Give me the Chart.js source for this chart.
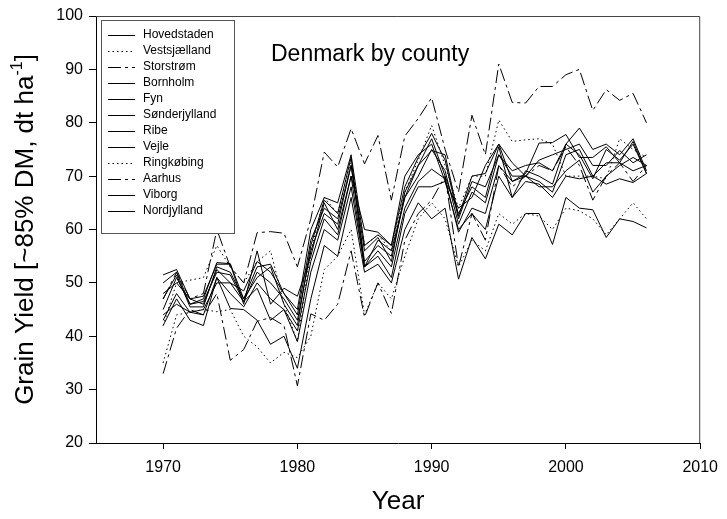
<!DOCTYPE html>
<html lang="da">
<head>
  <meta charset="UTF-8">
  <title>Denmark by county</title>
  <script src="https://cdn.jsdelivr.net/npm/chart.js"></script>
  <style>
    body { margin: 0; background: #fff; }
  </style>
</head>
<body>
  <canvas id="yieldChart" width="727" height="519"></canvas>

  <script>
    // years on the x axis
    const years = [1970, 1971, 1972, 1973, 1974, 1975, 1976, 1977, 1978, 1979,
                   1980, 1981, 1982, 1983, 1984, 1985, 1986, 1987, 1988, 1989,
                   1990, 1991, 1992, 1993, 1994, 1995, 1996, 1997, 1998, 1999,
                   2000, 2001, 2002, 2003, 2004, 2005, 2006];

    const xTicks = [1970, 1980, 1990, 2000, 2010];
    const yTicks = [20, 30, 40, 50, 60, 70, 80, 90, 100];

    // grain yield per county (dt/ha, ~85% DM)
    const hovedstaden = [48, 50, 47, 46, 52.5, 50, 48.5, 54, 52, 48, 44, 58, 64, 62, 72, 56, 58.5, 54, 67, 72,
                         74.8, 74, 62.5, 70, 70.5, 76, 72.5, 70, 73, 74, 75, 76, 72, 72, 74.8, 72.5, 74];
    const vestsjaelland = [42, 50, 50.5, 51, 57, 53, 50, 54, 56, 46, 39, 56, 66, 63, 73, 57, 59, 56, 67, 73,
                           79.5, 72, 64, 70, 70, 80.5, 76.5, 76.8, 77, 76, 70, 70, 70, 69.5, 77, 75, 73.5];
    const storstrom = [47, 52, 47, 48, 60, 53, 50, 59.4, 59.6, 59.3, 53, 62, 74.5, 71.7, 78.9, 72.3, 77.6, 65.5, 77.5, 80.8,
                       84.7, 75, 67, 81.4, 74, 91, 83.8, 83.7, 86.8, 86.8, 89, 90, 82.3, 86.2, 84.2, 85.5, 80];
    const bornholm = [51.5, 52.5, 47, 47.5, 53.5, 53.5, 46, 56, 46, 49, 47.5, 55, 65, 60, 70, 60, 59.5, 57, 70, 74,
                      76, 69, 64, 66, 72, 76, 69, 70.5, 76.2, 76.3, 77.8, 73.5, 73.5, 75.5, 72.5, 76.5, 70.5];
    const fyn = [50, 52, 46, 47, 53.8, 53.6, 47, 53, 53.5, 48, 45, 60, 66, 65, 74, 57, 59, 57, 68, 73.5,
                 78, 73, 62, 69, 68, 74, 71, 72, 72.5, 71, 76, 79, 75, 76, 74, 77, 71];
    const sonderjylland = [45, 51, 46, 46.5, 52, 51.5, 46.5, 52, 50, 47, 43, 56, 63, 61, 72, 54, 57, 55, 66, 70,
                           75, 71, 61, 67, 65, 74, 70, 70, 69, 67, 74, 75, 70, 72.5, 72.5, 71, 72];
    const ribe = [42, 47, 43, 42, 51, 45.2, 45, 43, 38.5, 40, 34, 47, 57, 55, 66, 52, 53.5, 50, 60, 65,
                  62, 64, 50.7, 58.5, 54.5, 61, 59, 63, 63, 57.2, 66, 64, 63.7, 58.5, 62, 61.5, 60.3];
    const vejle = [47, 51.5, 45.5, 45.5, 53, 52, 47, 51, 53, 46, 42, 57, 65.5, 63, 73.5, 53, 58, 56, 66, 72,
                   77, 70, 63, 68, 66, 75.5, 66, 71, 70, 68.5, 76, 74, 69.5, 75, 73, 76, 70.5];
    const ringkobing = [35, 44, 44.5, 45, 44.6, 45, 40, 38, 35, 37, 36, 40, 52.5, 55, 60, 44, 50, 47, 55, 62,
                        65, 62, 53, 58, 56, 63, 61, 63, 62.5, 60, 64, 63.5, 62, 59, 62, 65, 62];
    const aarhus = [33, 41.5, 45, 44, 48, 35.5, 37.5, 42.8, 43.5, 42, 30.7, 44.2, 43, 46, 56, 43.6, 50, 44.3, 58, 63,
                    65.5, 70, 53, 63, 58, 72, 68, 70, 72, 71, 75.5, 72, 65.5, 70, 72.5, 69, 72];
    const viborg = [43, 48, 44.5, 44, 51, 48, 45.5, 50, 47, 45, 41, 54, 62, 59, 70, 53, 56, 53, 64, 69,
                    71.3, 69.5, 59.5, 64, 63, 72, 69, 70, 68, 68, 71, 73, 67, 70, 72, 73.5, 72];
    const nordjylland = [44, 46, 44.5, 45, 50, 50, 46.5, 49, 43, 45, 39, 52, 60, 58, 68, 53, 55, 51, 63, 68,
                         68, 69, 60, 63, 60, 70, 66, 69, 68.5, 66, 70, 69.5, 70, 68.5, 69.5, 68.8, 70.5];

    const counties = ['Hovedstaden', 'Vestsjælland', 'Storstrøm', 'Bornholm', 'Fyn', 'Sønderjylland',
                      'Ribe', 'Vejle', 'Ringkøbing', 'Aarhus', 'Viborg', 'Nordjylland'];
    const series = [hovedstaden, vestsjaelland, storstrom, bornholm, fyn, sonderjylland,
                    ribe, vejle, ringkobing, aarhus, viborg, nordjylland];
    const lineKind = ['solid', 'dot', 'dash', 'solid', 'solid', 'solid',
                      'solid', 'solid', 'dot', 'dash', 'solid', 'solid'];

    const dashFor = { solid: [], dot: [1.5, 3], dash: [13, 4, 3, 4] };
    const FONT = 'Arial, "Liberation Sans", sans-serif';

    const datasets = counties.map((name, i) => ({
      label: name,
      data: years.map((yr, j) => ({ x: yr, y: series[i][j] })),
      borderColor: '#000',
      borderWidth: 1,
      borderDash: dashFor[lineKind[i]],
      pointRadius: 0,
      fill: false,
      tension: 0
    }));

    // frame, legend box, caption and axis titles
    const decorations = {
      id: 'decorations',
      afterDraw(chart) {
        const ctx = chart.ctx;
        const a = chart.chartArea;
        ctx.save();

        // top and right border of the plot box
        ctx.strokeStyle = '#444';
        ctx.lineWidth = 1;
        ctx.setLineDash([]);
        ctx.beginPath();
        ctx.moveTo(a.left, a.top + 0.5);
        ctx.lineTo(a.right - 0.5, a.top + 0.5);
        ctx.lineTo(a.right - 0.5, a.bottom);
        ctx.stroke();

        // legend
        const lx = 101, ly = 20, lw = 133, lh = 213;
        ctx.fillStyle = '#fff';
        ctx.fillRect(lx, ly, lw, lh);
        ctx.strokeStyle = '#555';
        ctx.strokeRect(lx + 0.5, ly + 0.5, lw, lh);
        ctx.font = '12px ' + FONT;
        ctx.textBaseline = 'middle';
        ctx.textAlign = 'left';
        chart.data.datasets.forEach((ds, i) => {
          const y = 35 + i * 16;
          ctx.strokeStyle = '#000';
          ctx.setLineDash(ds.borderDash);
          ctx.beginPath();
          ctx.moveTo(108, y + 0.5);
          ctx.lineTo(135, y + 0.5);
          ctx.stroke();
          ctx.fillStyle = '#000';
          ctx.fillText(ds.label, 143, y);
        });
        ctx.setLineDash([]);

        // caption inside the plot
        ctx.font = '23px ' + FONT;
        ctx.textBaseline = 'alphabetic';
        ctx.fillText('Denmark by county', 271, 61);

        // x axis title
        ctx.font = '26px ' + FONT;
        ctx.textAlign = 'center';
        ctx.fillText('Year', (a.left + a.right) / 2, 509);

        // y axis title with superscript
        const main = 'Grain Yield [~85% DM, dt ha';
        const sup = '-1';
        const tail = ']';
        ctx.font = '26px ' + FONT;
        const wMain = ctx.measureText(main).width;
        const wTail = ctx.measureText(tail).width;
        ctx.font = '16px ' + FONT;
        const wSup = ctx.measureText(sup).width;
        const total = wMain + wSup + wTail;
        ctx.translate(33, (a.top + a.bottom) / 2);
        ctx.rotate(-Math.PI / 2);
        ctx.textAlign = 'left';
        let x0 = -total / 2;
        ctx.font = '26px ' + FONT;
        ctx.fillText(main, x0, 0);
        x0 += wMain;
        ctx.font = '16px ' + FONT;
        ctx.fillText(sup, x0, -11);
        x0 += wSup;
        ctx.font = '26px ' + FONT;
        ctx.fillText(tail, x0, 0);

        ctx.restore();
      }
    };

    const config = {
      type: 'line',
      data: { datasets: datasets },
      options: {
        responsive: false,
        animation: false,
        layout: { padding: { top: 16, right: 20, left: 0, bottom: 0 } },
        plugins: {
          legend: { display: false },
          tooltip: { enabled: false }
        },
        scales: {
          x: {
            type: 'linear',
            min: 1965,
            max: 2010,
            afterBuildTicks: s => { s.ticks = xTicks.map(v => ({ value: v })); },
            afterFit: s => { s.height = 76; },
            grid: { drawOnChartArea: false, drawTicks: true, tickLength: 6, color: '#000' },
            border: { color: '#000', width: 1 },
            ticks: { color: '#000', padding: 9, maxRotation: 0, font: { size: 16, family: FONT },
                     callback: v => String(v) }
          },
          y: {
            min: 20,
            max: 100,
            afterBuildTicks: s => { s.ticks = yTicks.map(v => ({ value: v })); },
            afterFit: s => { s.width = 96; },
            grid: { drawOnChartArea: false, drawTicks: true, tickLength: 7, color: '#000' },
            border: { color: '#000', width: 1 },
            ticks: { color: '#000', padding: 6, font: { size: 16, family: FONT } }
          }
        }
      },
      plugins: [decorations]
    };

    new Chart(document.getElementById('yieldChart'), config);
  </script>
</body>
</html>
